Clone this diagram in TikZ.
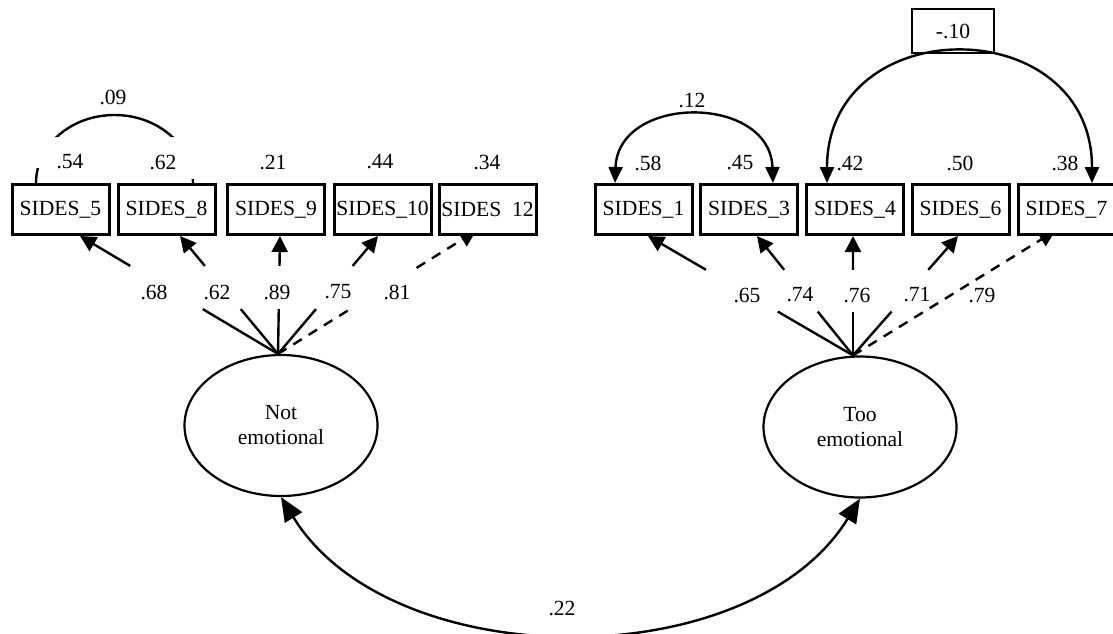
\documentclass[tikz,border=0pt]{standalone}
\usepackage{fontspec}
\setmainfont{Liberation Serif}
\usetikzlibrary{arrows.meta,calc,shapes.geometric}
\pgfdeclarelayer{back}
\pgfsetlayers{back,main}
\begin{document}
\begin{tikzpicture}[x=0.5pt,y=-0.5pt,
  txt/.style={font=\fontsize{10.8}{12.5}\selectfont, inner sep=0pt},
  obs/.style={txt, draw, line width=1.5pt, fill=white, minimum width=48.5pt, minimum height=25pt},
  lat/.style={txt, draw, ellipse, line width=1.1pt, fill=white, align=center, minimum width=96.5pt, minimum height=70.5pt},
  lbl/.style={txt},
  load/.style={line width=1.2pt},
  loadarr/.style={load, -{Triangle[length=8pt,width=8pt]}},
  dsh/.style={dash pattern=on 5pt off 4pt},
  cov/.style={line width=1.2pt, {Triangle[length=8pt,width=7pt]}-{Triangle[length=8pt,width=7pt]}},
  bigcov/.style={line width=1.2pt, {Triangle[length=12pt,width=10pt]}-{Triangle[length=12pt,width=10pt]}}
]
\useasboundingbox (0,0) rectangle (1113,633);
\begin{pgfonlayer}{back}\fill[white] (0,0) rectangle (1113,633);\end{pgfonlayer}

% observed variables
\node[obs] (s5)  at (60.5,209.5)  {SIDES\_5};
\node[obs] (s8)  at (166.5,209.5) {SIDES\_8};
\node[obs] (s9)  at (276,209.5)   {SIDES\_9};
\node[obs] (s10) at (382.5,209.5) {SIDES\_10};
\node[obs] (s12) at (487.5,209.5) {SIDES\ \ 12};
\node[obs] (s1)  at (643.5,209.5) {SIDES\_1};
\node[obs] (s3)  at (749,209.5)   {SIDES\_3};
\node[obs] (s4)  at (855,209.5)   {SIDES\_4};
\node[obs] (s6)  at (960.5,209.5) {SIDES\_6};
\node[obs] (s7)  at (1066.5,209.5){SIDES\_7};

% latent variables
\node[lat] (ln) at (281,425.5) {Not\\emotional};
\node[lat] (rn) at (860,427) {Too\\emotional};

% covariance label box
\node[txt, draw, line width=0.7pt, minimum width=41pt, minimum height=22pt] (cv) at (953,31) {-.10};

% loading end points
\coordinate (lc) at ([xshift=-1.5pt]ln.north);
\coordinate (t5)  at ([xshift=9.75pt]s5.south);
\coordinate (t8)  at ([xshift=6.75pt]s8.south);
\coordinate (t9)  at ([xshift=2pt]s9.south);
\coordinate (t10) at ([xshift=-2.25pt]s10.south);
\coordinate (t12) at ([xshift=-5.75pt,yshift=2.5pt]s12.south);
\coordinate (rc) at ([xshift=-3.5pt]rn.north);
\coordinate (t1) at ([xshift=2.25pt]s1.south);
\coordinate (t3) at ([xshift=4pt]s3.south);
\coordinate (t4) at ([xshift=-1pt]s4.south);
\coordinate (t6) at ([xshift=-1.25pt]s6.south);
\coordinate (t7) at ([xshift=-5.75pt,yshift=2.5pt]s7.south);

\begin{pgfonlayer}{back}
  \foreach \t in {t5,t8,t9,t10} {
    \draw[load] (lc) -- ($(lc)!0.38!(\t)$);
    \draw[loadarr] ($(lc)!0.746!(\t)$) -- (\t);
  }
  \draw[load,dsh] (lc) -- ($(lc)!0.36!(t12)$);
  \draw[loadarr,dsh] ($(lc)!0.70!(t12)$) -- (t12);
  \foreach \t in {t1,t3,t4,t6} {
    \draw[load] (rc) -- ($(rc)!0.367!(\t)$);
    \draw[loadarr] ($(rc)!0.717!(\t)$) -- (\t);
  }
  \draw[loadarr,dsh] (rc) -- (t7);
\end{pgfonlayer}

% covariances
\coordinate (c5) at ([xshift=-12.25pt]s5.north);
\coordinate (c8) at ([xshift=13.25pt]s8.north);
\coordinate (top09) at ($(c5)!0.5!(c8)+(0,-68)$);
\begin{scope}
  \clip (0,0) rectangle (1113,137) (20,168) rectangle (50,184) (180,179) rectangle (210,184);
  \draw[line width=1.2pt] (c5) .. controls +(0,-37.6) and +(-43.4,0) .. (top09)
                              .. controls +(43.4,0) and +(0,-37.6) .. (c8);
\end{scope}

\coordinate (c1) at ([xshift=-14.25pt]s1.north);
\coordinate (c3) at ([xshift=12pt]s3.north);
\draw[cov] (c1) .. controls +(3,-89) and +(-3,-89) .. (c3);

\coordinate (c4) at ([xshift=-14pt]s4.north);
\coordinate (c7) at ([xshift=12.75pt]s7.north);
\draw[cov] (c4) .. controls +(0,-173) and +(0,-173) .. (c7);

\draw[bigcov] (ln.south) .. controls +(110,179) and +(-110,179) .. (rn.south);

% labels
\node[lbl] (l09) at (113,97) {.09};
\node[lbl] (e5)  at (70,162)  {.54};
\node[lbl] (e8)  at (163,162) {.62};
\node[lbl] (e9)  at (273,162) {.21};
\node[lbl] (e10) at (380,162) {.44};
\node[lbl] (e12) at (487,162) {.34};
\node[lbl] (l12) at (692,100) {.12};
\node[lbl] (e1)  at (648,163) {.58};
\node[lbl] (e3)  at (740,163) {.45};
\node[lbl] (e4)  at (850,163) {.42};
\node[lbl] (e6)  at (960,163) {.50};
\node[lbl] (e7)  at (1065,163) {.38};

\node[lbl] (w5)  at (154,292) {.68};
\node[lbl] (w8)  at (217,292) {.62};
\node[lbl] (w9)  at (277,292) {.89};
\node[lbl] (w10) at (338,292) {.75};
\node[lbl] (w12) at (397,292) {.81};
\node[lbl] (w1)  at (747,295) {.65};
\node[lbl] (w3)  at (800,295) {.74};
\node[lbl] (w4)  at (857,295) {.76};
\node[lbl] (w6)  at (917,295) {.71};
\node[lbl] (w7)  at (982,295) {.79};

\node[lbl] (l22) at (562,608) {.22};
\end{tikzpicture}
\end{document}
